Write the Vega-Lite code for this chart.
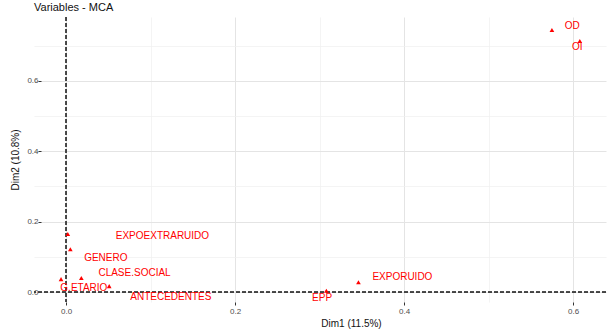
{
  "$schema": "https://vega.github.io/schema/vega-lite/v6.json",
  "width": 572,
  "height": 285,
  "autosize": {"type": "none"},
  "padding": {"left": 34, "top": 17, "right": 10, "bottom": 33},
  "background": "white",
  "title": {"text": "Variables - MCA", "anchor": "start", "frame": "group", "fontSize": 11, "font": "Liberation Sans", "fontWeight": "normal", "color": "#111111", "offset": 4},
  "config": {
    "view": {"stroke": null},
    "font": "Liberation Sans"
  },
  "data": {
    "values": [
      {"name": "OD", "x": 0.575, "y": 0.744, "lx": 0.599, "ly": 0.756},
      {"name": "OI", "x": 0.608, "y": 0.713, "lx": 0.605, "ly": 0.696},
      {"name": "EXPORUIDO", "x": 0.346, "y": 0.028, "lx": 0.398, "ly": 0.043},
      {"name": "EPP", "x": 0.308, "y": 0.004, "lx": 0.303, "ly": -0.017},
      {"name": "EXPOEXTRARUIDO", "x": 0.002, "y": 0.165, "lx": 0.114, "ly": 0.159},
      {"name": "GENERO", "x": 0.005, "y": 0.122, "lx": 0.047, "ly": 0.097},
      {"name": "CLASE.SOCIAL", "x": 0.018, "y": 0.040, "lx": 0.081, "ly": 0.054},
      {"name": "G.ETARIO", "x": -0.006, "y": 0.037, "lx": 0.021, "ly": 0.011},
      {"name": "ANTECEDENTES", "x": 0.051, "y": 0.017, "lx": 0.124, "ly": -0.014}
    ]
  },
  "encoding": {
    "x": {
      "field": "x", "type": "quantitative",
      "scale": {"domain": [-0.038, 0.639], "nice": false, "zero": false},
      "axis": {
        "title": "Dim1 (11.5%)", "titleFontSize": 10, "titleFontWeight": "normal", "titleColor": "#111111", "titleFont": "Liberation Sans",
        "titleX": 317, "titlePadding": 3,
        "values": [0, 0.1, 0.2, 0.3, 0.4, 0.5, 0.6],
        "labelExpr": "round(datum.value*10) % 2 == 0 ? format(datum.value, '.1f') : ''",
        "labelFontSize": 8, "labelColor": "#4d4d4d", "labelPadding": 2, "labelFont": "Liberation Sans",
        "domain": false,
        "ticks": true, "tickSize": 3, "tickColor": "#333333",
        "tickOpacity": {"condition": {"test": "round(datum.value*10) % 2 == 0", "value": 1}, "value": 0},
        "grid": true,
        "gridColor": {"condition": {"test": "round(datum.value*10) % 2 == 0", "value": "#e4e4e4"}, "value": "#efefef"},
        "gridWidth": {"condition": {"test": "round(datum.value*10) % 2 == 0", "value": 1}, "value": 0.7}
      }
    },
    "y": {
      "field": "y", "type": "quantitative",
      "scale": {"domain": [-0.028, 0.781], "nice": false, "zero": false},
      "axis": {
        "title": "Dim2 (10.8%)", "titleFontSize": 10, "titleFontWeight": "normal", "titleColor": "#111111", "titleFont": "Liberation Sans",
        "titlePadding": 6,
        "values": [0, 0.1, 0.2, 0.3, 0.4, 0.5, 0.6, 0.7],
        "labelExpr": "round(datum.value*10) % 2 == 0 ? format(datum.value, '.1f') : ''",
        "labelFontSize": 8, "labelColor": "#4d4d4d", "labelPadding": 0, "labelFont": "Liberation Sans",
        "offset": -7,
        "domain": false,
        "ticks": true, "tickSize": 3, "tickColor": "#333333",
        "tickOpacity": {"condition": {"test": "round(datum.value*10) % 2 == 0", "value": 1}, "value": 0},
        "grid": true,
        "gridColor": {"condition": {"test": "round(datum.value*10) % 2 == 0", "value": "#e4e4e4"}, "value": "#efefef"},
        "gridWidth": {"condition": {"test": "round(datum.value*10) % 2 == 0", "value": 1}, "value": 0.7}
      }
    }
  },
  "layer": [
    {
      "mark": {"type": "rule", "color": "#444444", "strokeDash": [4, 2], "strokeWidth": 0.7},
      "encoding": {"x": {"datum": 0}, "y": null}
    },
    {
      "mark": {"type": "rule", "color": "#444444", "strokeDash": [4, 2], "strokeWidth": 0.7},
      "encoding": {"y": {"datum": 0}, "x": null}
    },
    {
      "mark": {"type": "point", "shape": "triangle-up", "filled": true, "color": "#ff0000", "size": 22, "opacity": 1}
    },
    {
      "mark": {"type": "text", "color": "#ff0000", "fontSize": 10, "font": "Liberation Sans"},
      "encoding": {
        "x": {"field": "lx", "type": "quantitative"},
        "y": {"field": "ly", "type": "quantitative"},
        "text": {"field": "name"}
      }
    }
  ]
}
